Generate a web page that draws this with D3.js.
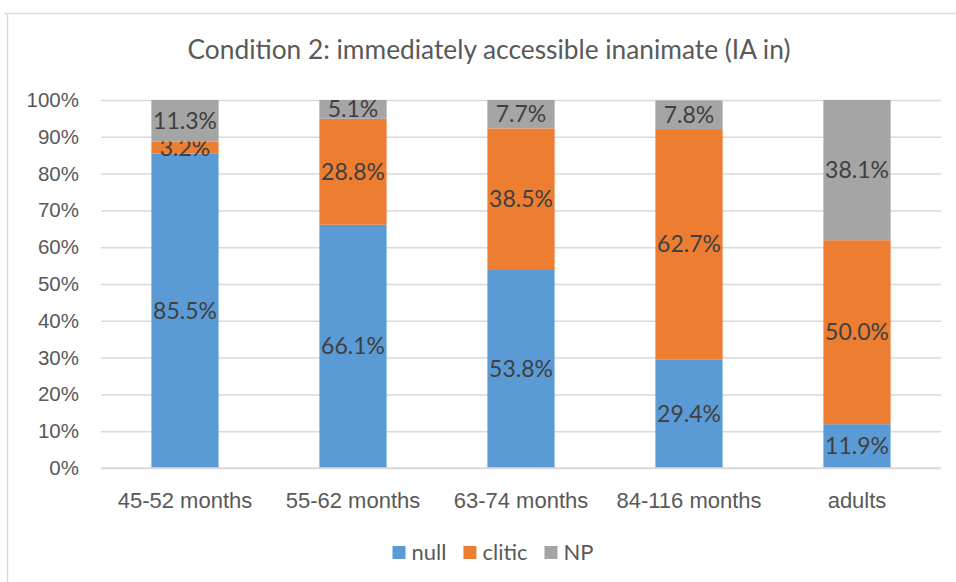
<!DOCTYPE html>
<html>
<head>
<meta charset="utf-8">
<script src="https://cdn.jsdelivr.net/npm/d3@7"></script>
<style>
  body { margin: 0; background: #fff; }
  svg { font-family: Lato, "Open Sans", sans-serif; }
</style>
</head>
<body>
<div id="chart"></div>
<script>
const categories = ["45-52 months", "55-62 months", "63-74 months", "84-116 months", "adults"];
const nullValues = [85.5, 66.1, 53.8, 29.4, 11.9];
const cliticValues = [3.2, 28.8, 38.5, 62.7, 50.0];
const npValues = [11.3, 5.1, 7.7, 7.8, 38.1];
const yTicks = [0, 10, 20, 30, 40, 50, 60, 70, 80, 90, 100];
const seriesNames = ["null", "clitic", "NP"];
const colors = ["#5B9BD5", "#ED7D31", "#A5A5A5"];

const width = 956;
const height = 582;
const margin = { top: 100, right: 15, bottom: 114, left: 101 };

const rows = categories.map((c, i) => ({
  cat: c,
  null: nullValues[i],
  clitic: cliticValues[i],
  NP: npValues[i],
}));

const svg = d3.select("#chart").append("svg").attr("width", width).attr("height", height);

// frame (only top + left edges show)
svg.append("line").attr("x1", 4).attr("x2", width).attr("y1", 13.5).attr("y2", 13.5)
  .attr("stroke", "#d9d9d9").attr("stroke-width", 1.5);
svg.append("line").attr("x1", 7.5).attr("x2", 7.5).attr("y1", 13).attr("y2", height)
  .attr("stroke", "#d9d9d9").attr("stroke-width", 1.5);

svg.append("text")
  .attr("x", 489).attr("y", 59)
  .attr("text-anchor", "middle")
  .attr("font-size", 26.3)
  .attr("fill", "#595959")
  .text("Condition 2: immediately accessible inanimate (IA in)");

const x = d3.scaleBand().domain(categories).range([margin.left, width - margin.right]).paddingInner(0.6).paddingOuter(0.3);
const y = d3.scaleLinear().domain([0, 100]).range([height - margin.bottom, margin.top]);

// gridlines + y axis
svg.append("g")
  .attr("transform", `translate(${margin.left}, 0)`)
  .call(d3.axisLeft(y).tickValues(yTicks).tickFormat((d) => `${d}%`).tickSize(0).tickPadding(22))
  .call((g) => {
    g.select(".domain").remove();
    g.selectAll(".tick line")
      .attr("x2", width - margin.right - margin.left)
      .attr("stroke", "#d9d9d9")
      .attr("stroke-width", 1.5);
    g.selectAll("text").attr("fill", "#595959").attr("font-size", 20.5).attr("font-family", null);
  });

const stack = d3.stack().keys(seriesNames)(rows);

const layers = svg.append("g").selectAll("g").data(stack).join("g").attr("fill", (d, i) => colors[i]);

layers.selectAll("rect")
  .data((d) => d)
  .join("rect")
  .attr("x", (d) => x(d.data.cat))
  .attr("width", x.bandwidth())
  .attr("y", (d) => y(d[1]))
  .attr("height", (d) => y(d[0]) - y(d[1]));

layers.selectAll("text")
  .data((d) => d.map((v) => ({ v, key: d.key })))
  .join("text")
  .attr("x", (d) => x(d.v.data.cat) + x.bandwidth() / 2)
  .attr("y", (d) => (y(d.v[0]) + y(d.v[1])) / 2)
  .attr("dy", "0.35em")
  .attr("text-anchor", "middle")
  .attr("font-size", 23)
  .attr("fill", "#404040")
  .text((d) => `${d.v.data[d.key].toFixed(1)}%`);

// baseline
svg.append("line")
  .attr("x1", margin.left).attr("x2", width - margin.right)
  .attr("y1", y(0)).attr("y2", y(0))
  .attr("stroke", "#d9d9d9").attr("stroke-width", 1.5);

// x axis labels
svg.append("g")
  .attr("transform", `translate(0, ${y(0)})`)
  .call(d3.axisBottom(x).tickSize(0).tickPadding(24))
  .call((g) => {
    g.select(".domain").remove();
    g.selectAll("text").attr("fill", "#595959").attr("font-size", 22).attr("font-family", null);
  });

// legend
const legend = svg.append("g").attr("transform", "translate(0, 552)");
const items = legend.selectAll("g").data(seriesNames).join("g");
items.append("rect").attr("width", 13).attr("height", 13).attr("y", -6).attr("fill", (d, i) => colors[i]);
items.append("text").attr("x", 19).attr("dy", "0.35em").attr("font-size", 22).attr("fill", "#595959").text((d) => d);

const widths = [];
items.each(function () {
  widths.push(this.getBBox().width);
});
const gap = 17;
const total = d3.sum(widths) + gap * (widths.length - 1);
let offset = 493 - total / 2;
items.attr("transform", (d, i) => {
  const t = `translate(${offset}, 0)`;
  offset += widths[i] + gap;
  return t;
});
</script>
</body>
</html>
